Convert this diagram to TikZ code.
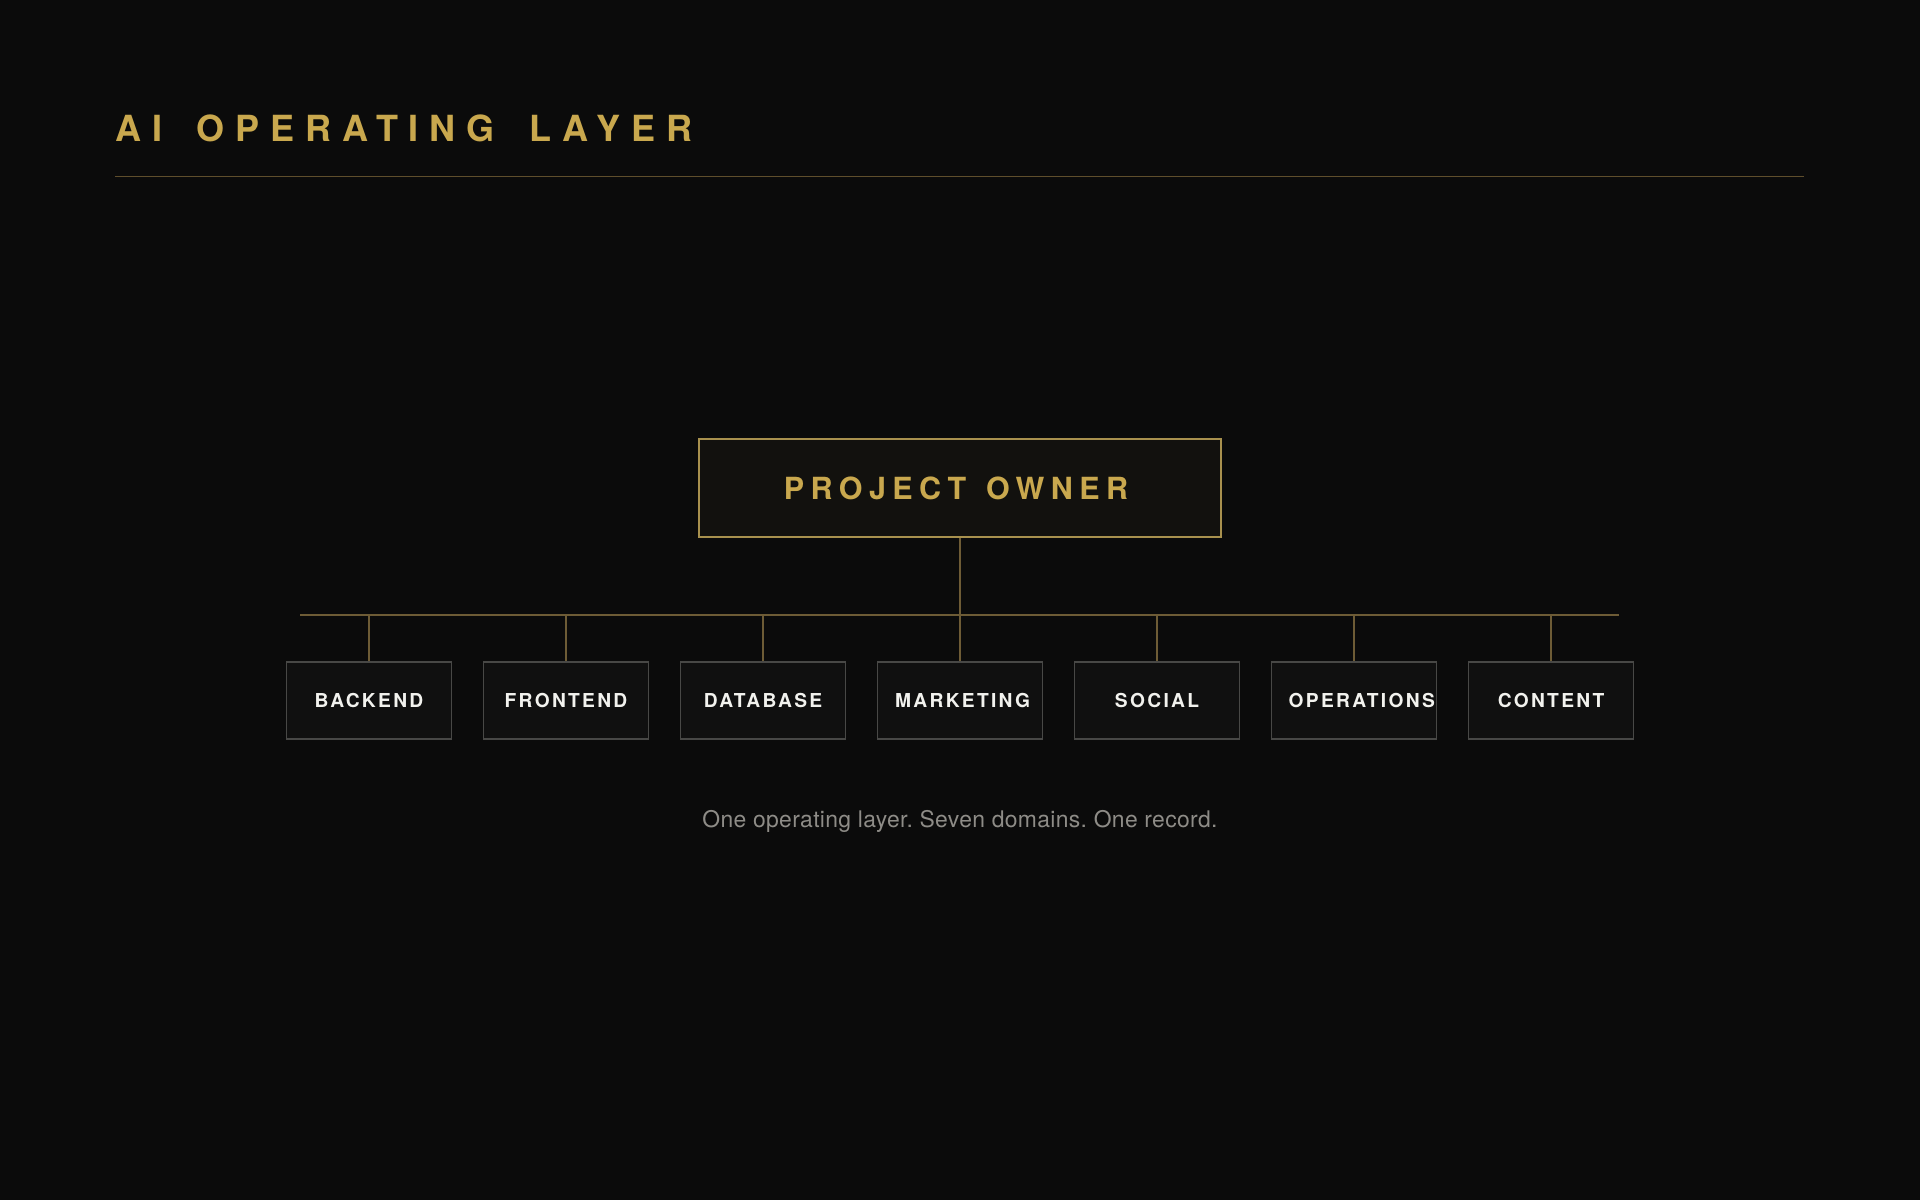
\documentclass[tikz,border=0pt]{standalone}
\usepackage{fontspec}
\setmainfont{TeX Gyre Heros}
\usepackage{tikz}
\definecolor{bgdark}{HTML}{0B0B0B}
\definecolor{goldtext}{HTML}{C9A84E}
\definecolor{goldline}{HTML}{6E5C36}
\definecolor{goldrule}{HTML}{5F4E2C}
\definecolor{ownerfill}{HTML}{12110E}
\definecolor{ownerdraw}{HTML}{A8914E}
\definecolor{domainfill}{HTML}{101010}
\definecolor{domaindraw}{HTML}{484846}
\definecolor{domaintext}{HTML}{F2F2EE}
\definecolor{captiongrey}{HTML}{8E8C87}
\frenchspacing

\begin{document}
\begin{tikzpicture}[x=0.5pt,y=-0.5pt]
\tikzstyle{ownerbox}=[draw=ownerdraw,fill=ownerfill,line width=0.6pt,minimum width=261pt,minimum height=49pt,inner sep=0pt]
\tikzstyle{domainbox}=[draw=domaindraw,fill=domainfill,line width=0.75pt,minimum width=82.5pt,minimum height=38.5pt,inner sep=0pt]
\tikzstyle{domainlabel}=[text=domaintext,inner sep=0pt,font=\fontsize{9.6}{11}\selectfont\bfseries\addfontfeature{LetterSpace=12}]
\tikzstyle{linkline}=[draw=goldline,line width=0.75pt]
\fill[bgdark] (0,0) rectangle (1920,1200);
\useasboundingbox (0,0) rectangle (1920,1200);
% heading
\node[anchor=base west,inner sep=0pt,text=goldtext,font=\fontsize{18}{20}\selectfont\bfseries\addfontfeature{LetterSpace=30}] (title) at (115,141.7) {AI\ \hspace{7pt}OPERATING\ \hspace{7pt}LAYER};
\coordinate (ruleL) at (115,176.5);
\coordinate (ruleR) at (1804,176.5);
\draw[goldrule,line width=0.75pt] (ruleL) -- (ruleR);
% owner
\node[ownerbox] (owner) at (960,488) {};
\node[text=goldtext,inner sep=0pt,font=\fontsize{15.25}{17}\selectfont\bfseries\addfontfeature{LetterSpace=21}] at ([xshift=-2pt]owner.center) {PROJECT\ \hspace{2.5pt}OWNER};
% bus
\coordinate (busL) at (300,615);
\coordinate (busR) at (1619,615);
\draw[linkline] (busL) -- (busR);
\draw[linkline] (owner.south) -- (owner.south |- busL);
% domains
\foreach \name/\x in {backend/369,frontend/566,database/763,marketing/960,social/1157,operations/1354,content/1551}{
  \node[domainbox] (\name) at (\x,700.5) {};
  \draw[linkline] (\name.north) -- (\name.north |- busL);
}
\node[domainlabel] at (backend) {BACKEND};
\node[domainlabel] at (frontend) {FRONTEND};
\node[domainlabel] at (database) {DATABASE};
\node[domainlabel,anchor=west] at ([xshift=9pt]marketing.west) {MARKETING};
\node[domainlabel] at (social) {SOCIAL};
\node[domainlabel,anchor=west] at ([xshift=8.75pt]operations.west) {OPERATIONS};
\node[domainlabel] at (content) {CONTENT};
% caption
\node[anchor=base,inner sep=0pt,text=captiongrey,font=\fontsize{11.45}{13}\selectfont\addfontfeature{LetterSpace=1.5}] (caption) at (960,827.7) {One operating layer. Seven domains. One record.};
\end{tikzpicture}
\end{document}
